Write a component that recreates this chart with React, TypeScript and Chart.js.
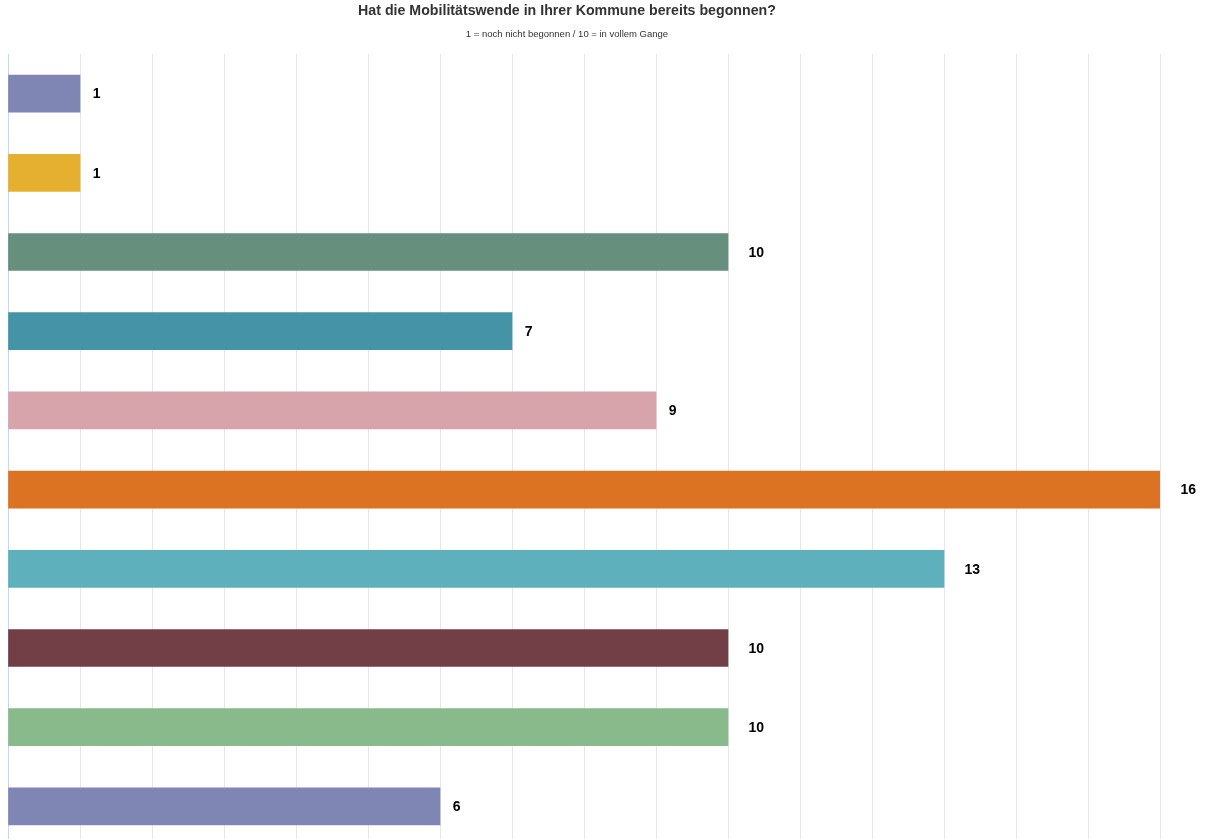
import React, { useEffect, useRef } from 'react';
import { Chart, registerables } from 'chart.js';

Chart.register(...registerables);

const categories = ['1', '2', '3', '4', '5', '6', '7', '8', '9', '10'];
const answers = [1, 1, 10, 7, 9, 16, 13, 10, 10, 6];
const barColors = [
  '#7f86b3', '#e5b02f', '#668f7e', '#4593a6', '#d7a4ab',
  '#dc7322', '#5eb0bd', '#733f47', '#88ba8c', '#7f86b3',
];
const titleText = 'Hat die Mobilitätswende in Ihrer Kommune bereits begonnen?';
const subtitleText = '1 = noch nicht begonnen / 10 = in vollem Gange';

const FONT = '"Liberation Sans", Arial, sans-serif';

// titel + untertitel, leicht links von der mitte
const headerPlugin = {
  id: 'header',
  afterDraw(chart) {
    const { ctx } = chart;
    ctx.save();
    ctx.textAlign = 'center';
    ctx.textBaseline = 'middle';
    ctx.fillStyle = '#333333';
    ctx.font = `bold 14.2px ${FONT}`;
    ctx.fillText(titleText, 567, 11.5);
    ctx.font = `9.5px ${FONT}`;
    ctx.fillText(subtitleText, 567, 34.5);
    ctx.restore();
  },
};

// werte rechts neben den balken
const valueLabels = {
  id: 'valueLabels',
  afterDatasetsDraw(chart) {
    const { ctx } = chart;
    const meta = chart.getDatasetMeta(0);
    ctx.save();
    ctx.font = `bold 14px ${FONT}`;
    ctx.fillStyle = '#000000';
    ctx.textAlign = 'left';
    ctx.textBaseline = 'middle';
    meta.data.forEach((bar, i) => {
      const txt = String(answers[i]);
      const w = ctx.measureText(txt).width;
      ctx.fillText(txt, bar.x + 5 + w, bar.y + 1);
    });
    ctx.restore();
  },
};

const App = () => {
  const canvasRef = useRef(null);

  useEffect(() => {
    const c = new Chart(canvasRef.current.getContext('2d'), {
      type: 'bar',
      data: {
        labels: categories,
        datasets: [
          {
            data: answers,
            backgroundColor: barColors,
            borderWidth: 0,
            barThickness: 37,
            categoryPercentage: 1,
          },
        ],
      },
      options: {
        indexAxis: 'y',
        animation: false,
        responsive: true,
        maintainAspectRatio: false,
        layout: { padding: { top: 54, left: 8, right: 56, bottom: 34 } },
        plugins: {
          legend: { display: false },
          tooltip: { enabled: false },
          title: { display: false },
        },
        scales: {
          x: {
            min: 0,
            max: 16,
            ticks: { display: false, stepSize: 1 },
            grid: { color: '#e6e6e6', lineWidth: 1, drawTicks: false },
            border: { display: false },
          },
          y: {
            ticks: { display: false },
            grid: { display: false, drawTicks: false },
            border: { display: true, color: '#ccd6eb', width: 1 },
          },
        },
      },
      plugins: [headerPlugin, valueLabels],
    });
    return () => {
      c.destroy();
    };
  }, []);

  return (
    <div style={{ position: 'fixed', top: 0, left: 0, width: 1216, height: 839, overflow: 'hidden', background: '#fff' }}>
      <div style={{ width: 1216, height: 880 }}>
        <canvas ref={canvasRef} />
      </div>
    </div>
  );
};

export default App;
